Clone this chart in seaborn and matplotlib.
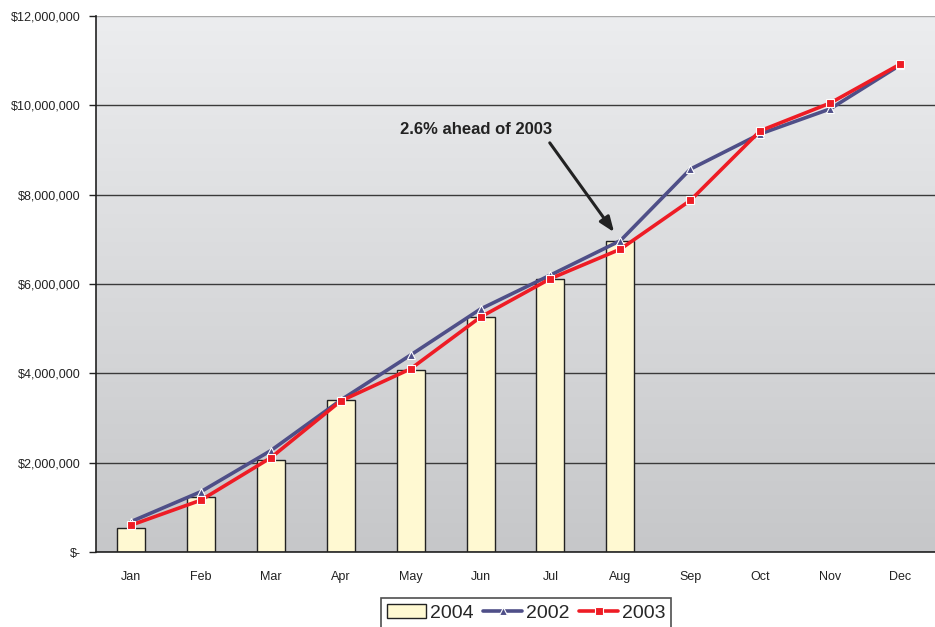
import numpy as np
import pandas as pd
import matplotlib
matplotlib.use("Agg")
import matplotlib.pyplot as plt
import seaborn as sns
from matplotlib.patches import Patch
from matplotlib.lines import Line2D
from matplotlib.ticker import FuncFormatter

# Cumulative revenue by month
months = ["Jan", "Feb", "Mar", "Apr", "May", "Jun",
          "Jul", "Aug", "Sep", "Oct", "Nov", "Dec"]
rev_2004 = [0.54e6, 1.23e6, 2.06e6, 3.40e6, 4.07e6, 5.26e6, 6.11e6, 6.96e6]
rev_2002 = [0.68e6, 1.35e6, 2.27e6, 3.40e6, 4.41e6, 5.44e6, 6.20e6, 6.97e6,
            8.57e6, 9.36e6, 9.92e6, 10.90e6]
rev_2003 = [0.60e6, 1.16e6, 2.11e6, 3.38e6, 4.10e6, 5.26e6, 6.12e6, 6.78e6,
            7.87e6, 9.43e6, 10.05e6, 10.92e6]
yticks = [0, 2e6, 4e6, 6e6, 8e6, 10e6, 12e6]
note = "2.6% ahead of 2003"

c_bar = "#fff9d2"
c_2002 = "#4f4f88"
c_2003 = "#ee1c25"

sns.set_style("white")
plt.rcParams["font.family"] = ["Liberation Sans", "DejaVu Sans"]

fig = plt.figure(figsize=(9.35, 6.27), dpi=100)
ax = fig.add_axes([96 / 935, 75 / 627, 839 / 935, 536 / 627])

# gradient background, light at the top, darker at the bottom
grad = np.linspace(0, 1, 256).reshape(-1, 1)
cmap = matplotlib.colors.LinearSegmentedColormap.from_list(
    "bg", ["#c6c7c9", "#ecedef"])
ax.imshow(grad, cmap=cmap, aspect="auto", extent=(-0.5, 11.5, 12e6, 0),
          zorder=0)

bars = pd.DataFrame({"month": months[:len(rev_2004)], "value": rev_2004})
sns.barplot(data=bars, x="month", y="value", order=months, color=c_bar,
            saturation=1, width=0.4, edgecolor="#222222", linewidth=1.0,
            ax=ax, zorder=2)

x = np.arange(len(months))
sns.lineplot(x=x, y=rev_2002, color=c_2002, lw=2.6, marker="^",
             markersize=6, markeredgecolor="white", markeredgewidth=0.8,
             ax=ax, zorder=3)
sns.lineplot(x=x, y=rev_2003, color=c_2003, lw=2.6, marker="s",
             markersize=6, markeredgecolor="white", markeredgewidth=0.8,
             ax=ax, zorder=4)

ax.set_xlim(-0.5, 11.5)
ax.set_ylim(0, 12e6)
ax.set_yticks(yticks)
ax.yaxis.set_major_formatter(FuncFormatter(
    lambda v, p: "$-" if v == 0 else f"${v:,.0f}"))
ax.set_xticks(x)
ax.set_xticklabels(months)
ax.set_xticks(np.arange(-0.5, 12, 1), minor=True)
ax.tick_params(axis="x", which="major", length=0, pad=14, labelsize=9,
               colors="#222222")
ax.tick_params(axis="x", which="minor", length=5, width=1, color="#222222",
               direction="out")
ax.tick_params(axis="y", length=5, width=1, color="#222222", direction="out",
               labelsize=9, pad=6, labelcolor="#222222", left=True)
ax.set_xlabel("")
ax.set_ylabel("")

ax.set_axisbelow(True)
ax.yaxis.grid(True, color="#3a3a3a", lw=1.0)
ax.yaxis.get_gridlines()[-1].set_color("#a8a8a8")
for s in ["left", "bottom"]:
    ax.spines[s].set_color("#222222")
    ax.spines[s].set_linewidth(1.2)
ax.spines["top"].set_visible(False)
ax.spines["right"].set_visible(False)

ax.text(4.93, 9.45e6, note, fontsize=12, fontweight="bold", ha="center",
        va="center", color="#222222")
ax.annotate("", xy=(6.91, 7.16e6), xytext=(5.99, 9.16e6),
            arrowprops=dict(arrowstyle="-|>,head_length=0.9,head_width=0.35",
                            color="#222222", lw=2.2,
                            shrinkA=0, shrinkB=0))

handles = [
    Patch(facecolor=c_bar, edgecolor="#222222", linewidth=1.0),
    Line2D([], [], color=c_2002, lw=2.6, marker="^", markersize=6,
           markeredgecolor="white", markeredgewidth=0.8),
    Line2D([], [], color=c_2003, lw=2.6, marker="s", markersize=6,
           markeredgecolor="white", markeredgewidth=0.8),
]
leg = fig.legend(handles, ["2004", "2002", "2003"], loc="upper center",
                 bbox_to_anchor=(0.563, 0.061), ncol=3, frameon=True,
                 fancybox=False, edgecolor="#222222", fontsize=14,
                 handlelength=2.0, handletextpad=0.2, columnspacing=0.5,
                 borderpad=0.3)
leg.get_frame().set_linewidth(1.2)

fig.savefig("out.png", dpi=100)
